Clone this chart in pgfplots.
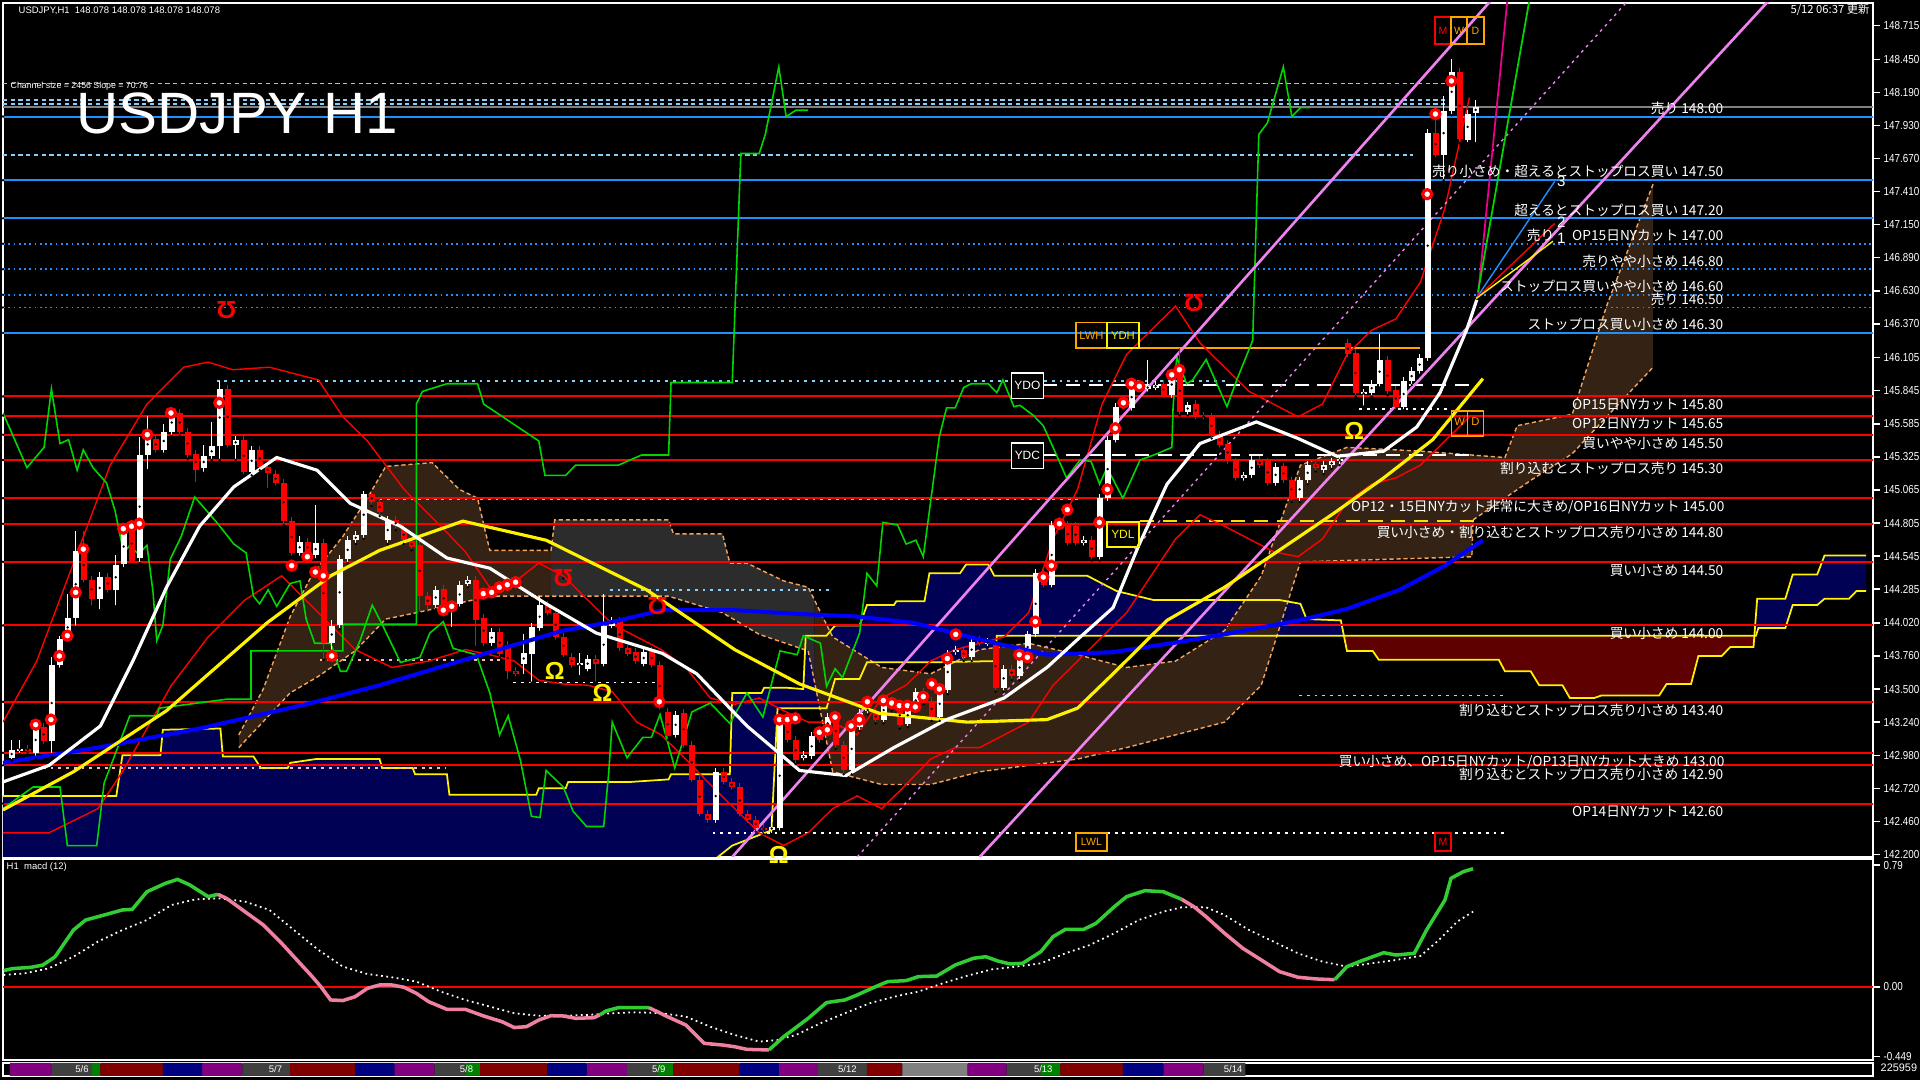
\documentclass[border=0pt]{standalone}
\usepackage{pgfplots}
\pgfplotsset{compat=1.18}
\usepackage{pgfplotstable}
\usepackage{fontspec}
\setmainfont{Liberation Sans}
\newfontfamily\jp{Noto Sans CJK JP}

\definecolor{dodger}{RGB}{30,144,255}
\definecolor{lsky}{RGB}{135,206,250}
\definecolor{peach}{RGB}{244,164,96}
\definecolor{cloudblue}{RGB}{0,0,85}
\definecolor{cloudred}{RGB}{95,0,0}
\definecolor{cloudpeach}{RGB}{52,35,20}
\definecolor{cloudgray}{RGB}{44,44,44}
\definecolor{mgreen}{RGB}{0,215,0}
\definecolor{macdg}{RGB}{50,205,50}
\definecolor{macdp}{RGB}{240,128,160}
\definecolor{chan}{RGB}{238,130,238}
\definecolor{pinkd}{RGB}{255,182,193}
\definecolor{orng}{RGB}{255,165,0}
\definecolor{mtpurple}{RGB}{128,0,128}
\definecolor{mtred}{RGB}{128,0,0}
\definecolor{mtnavy}{RGB}{0,0,128}
\definecolor{mtgray}{RGB}{64,64,64}
\definecolor{mtgreen}{RGB}{0,128,0}
\definecolor{mtlgray}{RGB}{128,128,128}

\newcommand\lvlfont{\jp\fontsize{3.9}{4.4}\selectfont}
\newcommand\smallfont{\fontsize{2.7}{3}\selectfont}

% bar index, open, high, low, close
\pgfplotstableread{
i o h l c
1 142.96 143.10 142.94 143.02
2 143.02 143.10 142.99 143.03
4 143.00 143.25 142.95 143.20
6 143.09 143.75 142.97 143.69
7 143.69 143.92 143.66 143.89
8 143.91 144.25 143.88 144.06
9 144.06 144.74 143.99 144.59
12 144.21 144.42 144.12 144.38
14 144.28 144.55 144.15 144.48
15 144.48 144.80 144.45 144.76
17 144.53 145.48 144.49 145.34
18 145.34 145.65 145.22 145.51
20 145.38 145.58 145.35 145.52
21 145.52 145.72 145.49 145.67
25 145.24 145.42 145.20 145.33
26 145.33 145.60 145.30 145.41
27 145.41 145.92 145.30 145.86
29 145.42 145.49 145.30 145.46
31 145.21 145.41 145.18 145.38
37 144.57 144.70 144.54 144.66
39 144.55 144.95 144.52 144.65
41 143.86 144.04 143.80 144.00
42 144.00 144.55 143.97 144.52
43 144.52 144.70 144.49 144.67
44 144.67 144.74 144.64 144.71
45 144.71 145.06 144.68 145.03
48 144.67 144.86 144.64 144.83
54 144.16 144.31 144.13 144.28
56 144.12 144.18 143.98 144.15
57 144.17 144.35 144.14 144.32
58 144.33 144.39 144.30 144.36
61 143.86 143.98 143.83 143.95
65 143.70 143.93 143.61 143.78
66 143.78 144.02 143.55 143.99
67 143.98 144.23 143.95 144.16
72 143.69 143.78 143.60 143.70
73 143.66 143.77 143.63 143.74
75 143.70 144.25 143.67 144.00
76 144.00 144.07 143.97 144.04
80 143.70 143.82 143.67 143.79
84 143.14 143.33 143.11 143.30
89 142.47 142.88 142.44 142.85
96 142.39 142.50 142.36 142.42
97 142.41 143.26 142.38 143.23
100 142.96 143.01 142.93 142.98
101 142.97 143.16 142.94 143.13
103 143.18 143.31 143.15 143.28
106 142.86 143.23 142.83 143.20
107 143.20 143.34 143.17 143.31
108 143.33 143.37 143.30 143.34
110 143.26 143.44 143.23 143.41
113 143.23 143.39 143.20 143.36
114 143.34 143.51 143.31 143.48
117 143.28 143.52 143.25 143.49
118 143.49 143.81 143.46 143.78
119 143.79 143.84 143.76 143.81
121 143.75 143.90 143.72 143.87
123 143.86 143.90 143.83 143.87
125 143.51 143.69 143.48 143.66
127 143.60 143.77 143.57 143.74
128 143.73 143.96 143.70 143.93
129 143.93 144.44 143.90 144.41
131 144.32 144.82 144.29 144.79
135 144.65 144.70 144.62 144.67
137 144.54 145.03 144.51 145.00
138 145.00 145.49 144.97 145.46
139 145.46 145.75 145.43 145.72
141 145.71 145.91 145.68 145.88
143 145.86 146.09 145.83 145.88
144 145.87 145.92 145.84 145.89
146 145.81 146.01 145.78 145.98
148 145.68 145.76 145.65 145.73
155 145.16 145.21 145.13 145.18
156 145.18 145.33 145.15 145.30
159 145.12 145.28 145.09 145.25
162 145.00 145.17 144.97 145.14
163 145.14 145.29 145.11 145.26
165 145.22 145.29 145.19 145.26
166 145.26 145.32 145.23 145.29
167 145.29 145.34 145.26 145.31
170 145.82 145.86 145.72 145.83
171 145.83 145.93 145.80 145.90
172 145.90 146.29 145.87 146.09
175 145.72 145.95 145.69 145.92
176 145.92 146.03 145.89 146.00
177 146.00 146.13 145.97 146.10
178 146.10 147.90 146.07 147.87
180 147.70 148.16 147.50 148.04
181 148.04 148.45 148.01 148.35
183 147.82 148.05 147.79 148.02
184 148.03 148.13 147.79 148.078
}\upbars

\pgfplotstableread{
i o h l c
3 143.03 143.06 143.00 143.02
5 143.20 143.23 143.06 143.09
10 144.59 144.74 144.33 144.36
11 144.36 144.39 144.15 144.21
13 144.38 144.41 144.25 144.28
16 144.78 144.82 144.48 144.51
19 145.47 145.50 145.35 145.38
22 145.67 145.70 145.49 145.52
23 145.52 145.55 145.31 145.34
24 145.35 145.38 145.12 145.22
28 145.86 145.89 145.39 145.42
30 145.46 145.49 145.18 145.21
32 145.38 145.41 145.22 145.25
33 145.25 145.28 145.07 145.20
34 145.19 145.22 145.09 145.12
35 145.12 145.15 144.79 144.82
36 144.82 144.85 144.54 144.57
38 144.66 144.69 144.54 144.57
40 144.65 144.68 143.73 143.86
46 145.03 145.06 144.94 144.97
47 144.97 145.00 144.86 144.89
49 144.83 144.86 144.75 144.78
50 144.76 144.79 144.64 144.67
51 144.66 144.69 144.59 144.62
52 144.63 144.66 144.10 144.23
53 144.23 144.26 144.10 144.16
55 144.29 144.32 144.11 144.14
59 144.36 144.39 143.83 144.04
60 144.06 144.09 143.83 143.86
62 143.95 143.98 143.75 143.78
63 143.85 143.88 143.57 143.64
64 143.64 143.67 143.59 143.62
68 144.16 144.19 144.07 144.10
69 144.10 144.13 143.88 143.91
70 143.91 143.94 143.74 143.77
71 143.75 143.78 143.66 143.69
74 143.74 143.77 143.55 143.70
77 144.04 144.07 143.79 143.82
78 143.82 143.85 143.75 143.78
79 143.79 143.82 143.69 143.72
81 143.80 143.83 143.66 143.69
82 143.69 143.72 143.33 143.36
83 143.32 143.35 143.10 143.13
85 143.31 143.34 143.03 143.06
86 143.06 143.09 142.76 142.79
87 142.79 142.82 142.49 142.52
88 142.52 142.55 142.44 142.47
90 142.85 142.88 142.74 142.77
91 142.77 142.80 142.70 142.73
92 142.73 142.76 142.49 142.52
93 142.52 142.55 142.44 142.47
94 142.47 142.50 142.38 142.41
95 142.41 142.44 142.36 142.39
98 143.23 143.26 143.07 143.10
99 143.10 143.13 142.91 142.94
102 143.18 143.21 143.07 143.10
104 143.28 143.31 143.03 143.06
105 143.06 143.09 142.83 142.86
109 143.31 143.34 143.23 143.26
111 143.40 143.43 143.33 143.36
112 143.37 143.40 143.19 143.22
115 143.48 143.51 143.38 143.41
116 143.41 143.44 143.25 143.28
120 143.81 143.84 143.72 143.75
122 143.89 143.92 143.83 143.86
124 143.85 143.88 143.48 143.51
126 143.66 143.69 143.57 143.60
130 144.41 144.44 144.29 144.32
132 144.82 144.85 144.76 144.79
133 144.79 144.82 144.62 144.65
134 144.78 144.81 144.62 144.65
136 144.67 144.70 144.51 144.54
140 145.75 145.78 145.69 145.72
142 145.88 145.91 145.83 145.86
145 145.90 145.93 145.78 145.81
147 146.01 146.18 145.65 145.68
149 145.74 145.77 145.61 145.64
150 145.65 145.68 145.61 145.64
151 145.64 145.67 145.47 145.50
152 145.50 145.53 145.39 145.42
153 145.43 145.46 145.26 145.29
154 145.29 145.32 145.13 145.16
157 145.30 145.33 145.23 145.26
158 145.29 145.32 145.09 145.12
160 145.25 145.28 145.11 145.14
161 145.14 145.17 144.97 145.00
164 145.27 145.30 145.21 145.24
168 146.22 146.25 146.10 146.13
169 146.14 146.17 145.80 145.83
173 146.09 146.12 145.81 145.84
174 145.85 145.88 145.69 145.72
179 147.87 148.00 147.67 147.70
182 148.35 148.38 147.79 147.82
}\dnbars

\pgfplotstableread{
y
148.00
147.50
147.20
146.30
}\bluesolid
\pgfplotstableread{
y
147.00
146.80
146.60
146.50
}\bluedot
\pgfplotstableread{
y
145.80
145.65
145.50
145.30
145.00
144.80
144.50
144.00
143.40
143.00
142.90
142.60
}\redlev

\begin{document}
\begin{tikzpicture}[lvl/.style={text=white, font=\lvlfont, inner sep=0.4pt}]
\fill[black] (0,0) rectangle (19.2,10.8);

% ---------------- price panel ----------------
\begin{axis}[
  at={(0.03cm,2.23cm)}, anchor=south west,
  width=18.70cm, height=8.54cm, scale only axis,
  xmin=2.45, xmax=1529.6, ymin=142.18, ymax=148.893,
  axis line style={white, line width=0.6pt},
  xtick=\empty,
  ytick pos=right, yticklabel pos=right,
  ytick={148.715,148.450,148.190,147.930,147.670,147.410,147.150,146.890,146.630,146.370,146.105,145.845,145.585,145.325,145.065,144.805,144.545,144.285,144.020,143.760,143.500,143.240,142.980,142.720,142.460,142.200},
  yticklabels={148.715,148.450,148.190,147.930,147.670,147.410,147.150,146.890,146.630,146.370,146.105,145.845,145.585,145.325,145.065,144.805,144.545,144.285,144.020,143.760,143.500,143.240,142.980,142.720,142.460,142.200},
  tick align=outside, major tick length=2pt,
  tick style={white, line width=0.4pt},
  yticklabel style={text=white, font=\fontsize{3.3}{3.6}\selectfont, xscale=0.85, inner sep=1pt},
  nomark/.style={only marks, mark=*, mark size=0.1pt, mark options={draw=none, fill=none}},
]
% ichimoku cloud (area between the two spans)
\addplot[fill=cloudblue, draw=none] coordinates {(2.45,142.66)(95,142.66)(100,142.98)(131,142.98)(133,143.18)(180,143.19)(182,142.97)(207,142.97)(213,142.88)(235,142.88)(237,142.92)(258,142.95)(310,142.95)(312,142.88)(337,142.88)(339,142.83)(365,142.83)(367,142.67)(438,142.67)(440,142.72)(462,142.72)(464,142.77)(515,142.77)(546,142.79)(548,142.83)(596,142.83)(598,143.47)(622,143.47)(624,143.51)(643,143.51)(656,143.50)(658,143.92)(675,143.92)(682,144.00)(702,144.00)(708,144.16)(730,144.16)(732,144.19)(755,144.19)(759,144.41)(784,144.41)(789,144.48)(807,144.48)(812,144.39)(888,144.39)(912,144.27)(942,144.20)(1045,144.20)(1062,144.17)(1067,144.05)(1095,144.04)(1097.5,143.92)(814,143.92)(813,143.72)(760,143.71)(708,143.71)(702,143.58)(682,143.58)(675,143.35)(635,143.35)(630,142.39)(598,142.27)(560,141.98)(2.45,141.98)} -- cycle;
\addplot[fill=cloudred, draw=none] coordinates {(1097.5,143.92)(1434,143.92)(1432,143.83)(1413,143.83)(1406,143.76)(1387,143.76)(1381,143.54)(1361,143.54)(1355,143.45)(1308,143.45)(1302,143.43)(1282,143.43)(1276,143.53)(1257,143.53)(1250,143.64)(1229,143.64)(1224,143.73)(1126,143.73)(1121,143.80)(1100,143.80)} -- cycle;
\addplot[fill=cloudblue, draw=none] coordinates {(1434,143.92)(1435,144.21)(1458,144.21)(1464,144.40)(1484,144.40)(1490,144.55)(1524,144.55)(1524,144.27)(1516,144.27)(1510,144.21)(1490,144.21)(1484,144.16)(1464,144.16)(1458,143.98)(1436,143.98)} -- cycle;

% second (dotted) cloud
\addplot[fill=cloudpeach, draw=none] coordinates {(195,143.14)(215,143.50)(237,144.07)(255,144.40)(280,144.70)(300,145.00)(315,145.25)(353,145.28)(375,145.07)(390,145.00)(400,144.59)(450,144.59)(450,144.23)(400,144.23)(340,144.10)(315,144.05)(290,143.80)(260,143.60)(237,143.47)(195,143.04)} -- cycle;
\addplot[fill=cloudgray, draw=none] coordinates {(450,144.59)(453,144.83)(546,144.83)(550,144.72)(590,144.72)(596,144.49)(610,144.49)(640,144.35)(660,144.30)(665,144.20)(665,143.56)(660,143.80)(620,143.93)(590,144.10)(546,144.23)(450,144.23)} -- cycle;
\addplot[fill=cloudpeach, draw=none] coordinates {(665,144.20)(680,143.91)(720,143.67)(760,143.62)(800,143.81)(840,143.86)(880,143.77)(920,143.67)(960,143.72)(1000,143.96)(1030,144.39)(1062,145.26)(1100,145.40)(1160,145.37)(1229,145.32)(1239,145.57)(1284,145.66)(1312,146.51)(1350,147.47)(1350,146.03)(1312,145.64)(1284,145.35)(1250,145.14)(1203,144.83)(1202,144.54)(1062,144.50)(1030,143.53)(1000,143.24)(960,143.14)(920,143.04)(880,142.95)(840,142.90)(800,142.85)(760,142.75)(720,142.75)(680,142.85)(665,143.56)} -- cycle;
\addplot[peach, line width=0.4pt, dash pattern=on 1.2pt off 0.8pt] coordinates {(195,143.14)(215,143.50)(237,144.07)(255,144.40)(280,144.70)(300,145.00)(315,145.25)(353,145.28)(375,145.07)(390,145.00)(400,144.59)(450,144.59)(453,144.83)(546,144.83)(550,144.72)(590,144.72)(596,144.49)(610,144.49)(640,144.35)(660,144.30)(680,143.91)(720,143.67)(760,143.62)(800,143.81)(840,143.86)(880,143.77)(920,143.67)(960,143.72)(1000,143.96)(1030,144.39)(1062,145.26)(1100,145.40)(1160,145.37)(1229,145.32)(1239,145.57)(1284,145.66)(1312,146.51)(1350,147.47)};
\addplot[peach, line width=0.4pt, dash pattern=on 1.2pt off 0.8pt] coordinates {(195,143.04)(237,143.47)(260,143.60)(290,143.80)(315,144.05)(340,144.10)(400,144.23)(546,144.23)(590,144.10)(620,143.93)(660,143.80)(680,142.85)(720,142.75)(760,142.75)(800,142.85)(840,142.90)(880,142.95)(920,143.04)(960,143.14)(1000,143.24)(1030,143.53)(1062,144.50)(1202,144.54)(1203,144.83)(1250,145.14)(1284,145.35)(1312,145.64)(1350,146.03)};
% span lines
\addplot[yellow, line width=0.5pt] coordinates {(2.45,142.66)(95,142.66)(100,142.98)(131,142.98)(133,143.18)(180,143.19)(182,142.97)(207,142.97)(213,142.88)(235,142.88)(237,142.92)(258,142.95)(310,142.95)(312,142.88)(337,142.88)(339,142.83)(365,142.83)(367,142.67)(438,142.67)(440,142.72)(462,142.72)(464,142.77)(515,142.77)(546,142.79)(548,142.83)(596,142.83)(598,143.47)(622,143.47)(624,143.51)(643,143.51)(656,143.50)(658,143.92)(675,143.92)(682,144.00)(702,144.00)(708,144.16)(730,144.16)(732,144.19)(755,144.19)(759,144.41)(784,144.41)(789,144.48)(807,144.48)(812,144.39)(888,144.39)(912,144.27)(942,144.20)(1045,144.20)(1062,144.17)(1067,144.05)(1095,144.04)(1100,143.80)(1121,143.80)(1126,143.73)(1224,143.73)(1229,143.64)(1250,143.64)(1257,143.53)(1276,143.53)(1282,143.43)(1302,143.43)(1308,143.45)(1355,143.45)(1361,143.54)(1381,143.54)(1387,143.76)(1406,143.76)(1413,143.83)(1432,143.83)(1435,144.21)(1458,144.21)(1464,144.40)(1484,144.40)(1490,144.55)(1524,144.55)};
\addplot[yellow, line width=0.5pt] coordinates {(2.45,141.98)(560,141.98)(598,142.27)(630,142.39)(635,143.35)(675,143.35)(682,143.58)(702,143.58)(708,143.71)(760,143.71)(813,143.72)(814,143.92)(1434,143.92)(1436,143.98)(1458,143.98)(1464,144.16)(1484,144.16)(1490,144.21)(1510,144.21)(1516,144.27)(1524,144.27)};

% horizontal levels
\addplot[nomark, error bars/.cd, x dir=plus, x explicit, error mark=none, error bar style={dodger, line width=0.55pt}] table[x expr=2.45, y=y, x error expr=1528] {\bluesolid};
\addplot[nomark, error bars/.cd, x dir=plus, x explicit, error mark=none, error bar style={dodger, line width=0.5pt, densely dotted}] table[x expr=2.45, y=y, x error expr=1528] {\bluedot};
\addplot[nomark, error bars/.cd, x dir=plus, x explicit, error mark=none, error bar style={red, line width=0.55pt}] table[x expr=2.45, y=y, x error expr=1528] {\redlev};
\addplot[mtlgray, line width=0.5pt] coordinates {(2.45,148.078)(1529.6,148.078)};

% dotted reference lines
\addplot[lsky, line width=0.45pt, dash pattern=on 1.2pt off 1pt] coordinates {(2.45,148.26)(1181,148.26)};
\addplot[lsky, line width=0.45pt, dash pattern=on 1.2pt off 1pt] coordinates {(2.45,148.13)(1181,148.13)};
\addplot[lsky, line width=0.45pt, dash pattern=on 1.2pt off 1pt] coordinates {(2.45,148.10)(1181,148.10)};
\addplot[lsky, line width=0.45pt, dash pattern=on 1.2pt off 1pt] coordinates {(2.45,147.70)(1154,147.70)};
\addplot[lsky, line width=0.45pt, dash pattern=on 0.8pt off 1.4pt] coordinates {(177,145.92)(1000,145.92)};
\addplot[lsky, line width=0.45pt, dash pattern=on 0.8pt off 1.4pt] coordinates {(310,144.99)(884,144.99)};
\addplot[lsky, line width=0.45pt, dash pattern=on 0.8pt off 1.4pt] coordinates {(498,144.28)(678,144.28)};
\addplot[pinkd, line width=0.45pt, dash pattern=on 0.8pt off 1.4pt] coordinates {(261,143.73)(414,143.73)};
\addplot[pinkd, line width=0.45pt, dash pattern=on 0.8pt off 1.4pt] coordinates {(35,142.88)(364,142.88)};
\addplot[pinkd, line width=0.45pt, dash pattern=on 0.8pt off 1.4pt] coordinates {(1061,143.45)(1229,143.45)};
\addplot[white, line width=0.45pt, dash pattern=on 0.8pt off 1.4pt] coordinates {(582,142.37)(1230,142.37)};
\addplot[white, line width=0.45pt, dash pattern=on 0.8pt off 1.4pt] coordinates {(419,143.55)(539,143.55)};
\addplot[white, line width=0.45pt, dash pattern=on 0.8pt off 1.4pt] coordinates {(1110,145.70)(1183,145.70)};
\addplot[orng, line width=0.6pt] coordinates {(930,146.18)(1160,146.18)};
\addplot[white, line width=0.5pt, dash pattern=on 4pt off 2.5pt] coordinates {(852,145.89)(1206,145.89)};
\addplot[white, line width=0.5pt, dash pattern=on 4pt off 2.5pt] coordinates {(852,145.34)(1206,145.34)};
\addplot[yellow!80!orange, line width=0.5pt, dash pattern=on 4pt off 2.5pt] coordinates {(931,144.82)(1206,144.82)};

% bands
\addplot[red, line width=0.4pt] coordinates {(2.45,143.24)(30,143.72)(60,144.49)(90,145.26)(120,145.74)(150,146.03)(170,146.07)(190,146.01)(220,146.03)(260,145.93)(280,145.64)(300,145.45)(330,145.07)(360,144.78)(380,144.58)(400,144.30)(420,144.34)(440,144.49)(460,144.39)(480,144.20)(500,144.01)(520,143.91)(540,143.81)(560,143.67)(580,143.43)(600,143.38)(620,143.43)(640,143.33)(660,143.24)(680,143.24)(700,143.14)(720,143.43)(740,143.53)(760,143.72)(780,143.81)(800,143.86)(820,143.91)(840,144.10)(860,144.68)(880,145.07)(900,145.74)(920,146.13)(940,146.32)(960,146.51)(980,146.22)(1000,146.03)(1020,145.84)(1040,145.74)(1060,145.64)(1080,145.74)(1100,146.13)(1120,146.32)(1140,146.41)(1160,146.70)(1180,147.28)(1200,148.15)};
\addplot[red, line width=0.4pt] coordinates {(2.45,142.37)(40,142.37)(80,142.56)(100,142.85)(140,143.53)(170,143.91)(200,144.20)(230,144.39)(260,144.10)(290,143.81)(320,143.67)(350,143.72)(380,143.81)(400,143.77)(420,143.72)(440,143.57)(460,143.54)(480,143.53)(500,143.48)(520,143.24)(540,143.14)(560,142.95)(580,142.75)(600,142.56)(620,142.37)(640,142.27)(660,142.37)(680,142.56)(700,142.66)(720,142.56)(740,142.75)(760,142.95)(780,143.04)(800,143.04)(820,143.14)(840,143.24)(860,143.53)(880,143.72)(900,143.91)(920,144.10)(940,144.39)(960,144.68)(980,144.87)(1000,144.78)(1020,144.68)(1040,144.58)(1060,144.54)(1080,144.68)(1100,144.97)(1120,145.11)(1140,145.16)(1160,145.26)(1180,145.45)(1200,145.64)};

% green lines
\addplot[mgreen, line width=0.45pt] coordinates {(2.45,142.56)(27,142.73)(49,142.73)(55,142.27)(79,142.27)(85,142.76)(106,143.29)(128,143.29)(130,143.35)(185,143.42)(205,143.42)(205,143.80)(280,143.80)(280,144.01)(340,144.01)(340,145.74)(345,145.84)(365,145.90)(390,145.90)(395,145.74)(440,145.45)(445,145.18)(462,145.18)(470,145.26)(505,145.26)(524,145.34)(546,145.34)(548,145.91)(598,145.91)(605,147.71)(620,147.71)(625,147.86)(636,148.39)(642,148.00)(650,148.05)(660,148.05)};
\addplot[mgreen, line width=0.45pt] coordinates {(2.45,145.67)(22,145.24)(36,145.40)(42,145.86)(49,145.43)(56,145.46)(63,145.22)(68,145.38)(76,145.24)(87,145.12)(94,144.90)(101,144.57)(106,144.63)(113,144.56)(120,144.63)(125,144.26)(128,143.88)(133,144.00)(139,144.52)(148,144.70)(159,145.01)(177,144.81)(191,144.64)(201,144.57)(207,144.23)(212,144.17)(219,144.28)(226,144.15)(237,144.33)(245,144.35)(250,144.05)(257,143.86)(270,143.86)(278,143.64)(283,143.64)(294,143.88)(304,144.16)(313,143.99)(327,143.71)(343,143.75)(351,143.94)(362,144.03)(370,143.82)(389,143.77)(400,143.47)(408,143.14)(415,143.29)(425,142.94)(434,142.50)(441,142.49)(446,142.86)(460,142.73)(468,142.54)(479,142.42)(493,142.42)(497,142.83)(500,143.24)(512,142.96)(525,143.12)(532,143.12)(539,143.30)(551,142.88)(565,143.32)(580,143.39)(596,143.23)(610,143.47)(623,143.28)(637,143.80)(651,143.77)(656,143.92)(670,143.86)(675,143.52)(682,143.66)(688,143.59)(702,143.94)(708,144.41)(716,144.31)(721,144.81)(733,144.79)(740,144.64)(748,144.67)(754,144.54)(767,145.48)(773,145.71)(780,145.71)(787,145.87)(793,145.90)(807,145.90)(814,145.83)(819,145.93)(828,145.72)(833,145.73)(844,145.65)(852,145.57)(860,145.40)(871,145.16)(882,145.30)(891,145.29)(898,145.11)(904,145.24)(917,145.00)(931,145.30)(945,145.35)(957,145.40)(958,145.72)(961,146.11)(969,145.90)(974,145.93)(985,146.09)(1002,145.72)(1010,145.93)(1023,146.24)(1028,147.86)(1035,147.95)(1048,148.39)(1055,148.00)(1062,148.07)(1070,148.07)};

% channel
\addplot[chan, line width=0.75pt] coordinates {(598,142.18)(1218,148.917)};
\addplot[chan, line width=0.75pt] coordinates {(800,142.18)(1445,148.917)};
\addplot[chan, line width=0.4pt, dash pattern=on 0.8pt off 1.2pt] coordinates {(700,142.18)(1330,148.917)};

% candles
\addplot[nomark, error bars/.cd, y dir=plus, y explicit, error mark=none, error bar style={white, line width=0.4pt}]
  table[x expr=9.555+6.533*(\thisrow{i}-1), y=l, y error expr=\thisrow{h}-\thisrow{l}] {\upbars};
\addplot[nomark, error bars/.cd, y dir=plus, y explicit, error mark=none, error bar style={red, line width=0.4pt}]
  table[x expr=9.555+6.533*(\thisrow{i}-1), y=l, y error expr=\thisrow{h}-\thisrow{l}] {\dnbars};
\addplot[nomark, error bars/.cd, y dir=both, y explicit, error mark=none, error bar style={white, line width=1.8pt}]
  table[x expr=9.555+6.533*(\thisrow{i}-1), y expr=(\thisrow{o}+\thisrow{c})/2, y error expr={max(abs(\thisrow{o}-\thisrow{c})/2,0.008)}] {\upbars};
\addplot[nomark, error bars/.cd, y dir=both, y explicit, error mark=none, error bar style={red, line width=1.8pt}]
  table[x expr=9.555+6.533*(\thisrow{i}-1), y expr=(\thisrow{o}+\thisrow{c})/2, y error expr={max(abs(\thisrow{o}-\thisrow{c})/2,0.008)}] {\dnbars};

% moving averages
\addplot[blue, line width=1.15pt] coordinates {(2.45,142.92)(80,143.04)(163,143.19)(250,143.38)(310,143.53)(400,143.79)(460,143.96)(501,144.03)(541,144.12)(600,144.12)(653,144.09)(700,144.07)(746,144.02)(800,143.89)(855,143.77)(909,143.79)(963,143.87)(1000,143.93)(1061,144.04)(1100,144.13)(1143,144.28)(1180,144.47)(1211,144.67)};
\addplot[yellow, line width=0.9pt] coordinates {(2.45,142.55)(60,142.85)(136,143.33)(218,144.02)(270,144.39)(310,144.59)(378,144.82)(446,144.67)(528,144.28)(600,143.81)(653,143.54)(718,143.31)(790,143.24)(855,143.26)(880,143.35)(909,143.62)(953,144.04)(1000,144.30)(1089,144.88)(1130,145.16)(1170,145.46)(1211,145.94)};
\addplot[white, line width=0.9pt] coordinates {(2.45,142.77)(40,142.90)(82,143.21)(109,143.73)(136,144.30)(163,144.78)(191,145.09)(226,145.32)(259,145.22)(286,144.96)(327,144.78)(365,144.53)(400,144.45)(446,144.17)(487,143.94)(541,143.78)(569,143.62)(610,143.21)(653,142.86)(691,142.82)(730,143.04)(773,143.26)(820,143.43)(855,143.67)(880,143.89)(909,144.14)(930,144.63)(953,145.11)(980,145.43)(1026,145.60)(1060,145.47)(1092,145.33)(1130,145.37)(1157,145.56)(1176,145.83)(1198,146.33)(1206,146.56)};

% late fan and steep lines
\addplot[dodger, line width=0.4pt] coordinates {(1205.5,146.57)(1269.6,147.49)};
\addplot[red, line width=0.4pt] coordinates {(1205.5,146.57)(1269.6,147.16)};
\addplot[yellow, line width=0.4pt] coordinates {(1205.5,146.57)(1268.2,147.02)};
\addplot[magenta, line width=0.5pt] coordinates {(1207,146.59)(1231,148.917)};
\addplot[mgreen, line width=0.5pt] coordinates {(1207,146.62)(1249,148.917)};

% signal circles
\addplot[only marks, mark=*, mark size=1.3pt, mark options={draw=red, fill=white, line width=0.9pt}] coordinates {(29.1,143.22)(41.6,143.26)(48.5,143.76)(55,143.92)(61.8,144.26)(68,144.60)(100.7,144.76)(107.5,144.78)(113.8,144.80)(120.3,145.50)(139.6,145.67)(179.1,145.75)(238.2,144.47)(251,144.54)(257.5,144.42)(264,144.39)(270.9,143.76)(362,144.12)(368.9,144.15)(394.7,144.25)(401.5,144.26)(407.8,144.30)(414.3,144.32)(421.1,144.34)(538.4,143.40)(636.5,143.26)(643,143.26)(649.5,143.27)(669.1,143.16)(675.6,143.18)(681.9,143.28)(695,143.21)(701.8,143.26)(708.3,143.40)(721.4,143.41)(728.2,143.39)(734.4,143.37)(741,143.37)(747.5,143.36)(754,143.44)(760.9,143.54)(767.1,143.50)(773.6,143.74)(780.5,143.93)(832.4,143.77)(839,143.75)(845.5,144.03)(852,144.38)(858.6,144.47)(865.1,144.80)(871.6,144.91)(897.8,144.81)(904.3,145.07)(910.8,145.55)(917.4,145.75)(923.9,145.90)(930.4,145.88)(956.9,145.97)(963.1,146.01)(1165.5,147.39)(1172.2,148.02)(1185.3,148.28)};

% horseshoe symbols
\addplot[nomark, nodes near coords={\bfseries\fontsize{7}{7}\selectfont Ω}, every node near coord/.append style={text=red, rotate=180, anchor=center, inner sep=0pt}] coordinates {(185,146.48)(975,146.53)(460,144.37)(537,144.15)};
\addplot[nomark, nodes near coords={\bfseries\fontsize{7}{7}\selectfont Ω}, every node near coord/.append style={text=yellow, anchor=center, inner sep=0pt}] coordinates {(453,143.64)(492,143.47)(1106,145.53)(636,142.20)};

% level labels
\node[lvl, anchor=south east] at (axis cs:1409,148.00) {売り 148.00};
\node[lvl, anchor=south east] at (axis cs:1409,147.50) {売り小さめ・超えるとストップロス買い 147.50};
\node[lvl, anchor=south east] at (axis cs:1409,147.20) {超えるとストップロス買い 147.20};
\node[lvl, anchor=south east] at (axis cs:1409,147.00) {OP15日NYカット 147.00};
\node[lvl, anchor=south east] at (axis cs:1271,147.00) {売り};
\node[lvl, anchor=south east] at (axis cs:1409,146.80) {売りやや小さめ 146.80};
\node[lvl, anchor=south east] at (axis cs:1409,146.60) {ストップロス買いやや小さめ 146.60};
\node[lvl, anchor=south east] at (axis cs:1409,146.50) {売り 146.50};
\node[lvl, anchor=south east] at (axis cs:1409,146.30) {ストップロス買い小さめ 146.30};
\node[lvl, anchor=north east] at (axis cs:1409,145.80) {OP15日NYカット 145.80};
\node[lvl, anchor=north east] at (axis cs:1409,145.65) {OP12日NYカット 145.65};
\node[lvl, anchor=north east] at (axis cs:1409,145.50) {買いやや小さめ 145.50};
\node[lvl, anchor=north east] at (axis cs:1409,145.30) {割り込むとストップロス売り 145.30};
\node[lvl, anchor=north east] at (axis cs:1410,145.00) {OP12・15日NYカット非常に大きめ/OP16日NYカット 145.00};
\node[lvl, anchor=north east] at (axis cs:1409,144.80) {買い小さめ・割り込むとストップロス売り小さめ 144.80};
\node[lvl, anchor=north east] at (axis cs:1409,144.50) {買い小さめ 144.50};
\node[lvl, anchor=north east] at (axis cs:1409,144.00) {買い小さめ 144.00};
\node[lvl, anchor=north east] at (axis cs:1409,143.40) {割り込むとストップロス売り小さめ 143.40};
\node[lvl, anchor=north east] at (axis cs:1410,143.00) {買い小さめ、OP15日NYカット/OP13日NYカット大きめ 143.00};
\node[lvl, anchor=north east] at (axis cs:1409,142.90) {割り込むとストップロス売り小さめ 142.90};
\node[lvl, anchor=north east] at (axis cs:1409,142.60) {OP14日NYカット 142.60};
\node[text=white, font=\fontsize{4.3}{4.5}\selectfont, inner sep=0] at (axis cs:1275,147.49) {3};
\node[text=white, font=\fontsize{4.3}{4.5}\selectfont, inner sep=0] at (axis cs:1275,147.17) {2};
\node[text=white, font=\fontsize{4.3}{4.5}\selectfont, inner sep=0] at (axis cs:1275,147.04) {1};

% marker boxes
\draw[orng, line width=0.45pt] (axis cs:878.7,146.18) rectangle (axis cs:904,146.38);
\node[text=orng, font=\fontsize{3.2}{3.4}\selectfont] at (axis cs:891.3,146.28) {LWH};
\draw[yellow, line width=0.45pt] (axis cs:904,146.18) rectangle (axis cs:930,146.38);
\node[text=yellow, font=\fontsize{3.2}{3.4}\selectfont] at (axis cs:917,146.28) {YDH};
\draw[white, line width=0.45pt, fill=black] (axis cs:826,145.785) rectangle (axis cs:852,145.986);
\node[text=white, font=\fontsize{3.4}{3.6}\selectfont] at (axis cs:839,145.885) {YDO};
\draw[white, line width=0.45pt, fill=black] (axis cs:826,145.234) rectangle (axis cs:852,145.436);
\node[text=white, font=\fontsize{3.4}{3.6}\selectfont] at (axis cs:839,145.335) {YDC};
\draw[yellow, line width=0.45pt] (axis cs:904,144.618) rectangle (axis cs:930,144.815);
\node[text=yellow, font=\fontsize{3.4}{3.6}\selectfont] at (axis cs:917,144.716) {YDL};
\draw[orng, line width=0.45pt] (axis cs:1185.5,145.489) rectangle (axis cs:1198.5,145.685);
\node[text=orng, font=\fontsize{3.2}{3.4}\selectfont] at (axis cs:1192,145.60) {W};
\draw[orng, line width=0.45pt] (axis cs:1198.5,145.489) rectangle (axis cs:1211.4,145.685);
\node[text=orng, font=\fontsize{3.2}{3.4}\selectfont] at (axis cs:1205,145.60) {D};
\draw[red, line width=0.45pt] (axis cs:1172,148.57) rectangle (axis cs:1185,148.782);
\node[text=red, font=\fontsize{3}{3.2}\selectfont] at (axis cs:1178.5,148.676) {M};
\draw[orng, line width=0.45pt] (axis cs:1185,148.57) rectangle (axis cs:1198,148.782);
\node[text=orng, font=\fontsize{3}{3.2}\selectfont] at (axis cs:1191.5,148.676) {W};
\draw[orng, line width=0.45pt] (axis cs:1198,148.57) rectangle (axis cs:1212,148.782);
\node[text=orng, font=\fontsize{3}{3.2}\selectfont] at (axis cs:1205,148.676) {D};
\draw[orng, line width=0.45pt] (axis cs:878.7,142.225) rectangle (axis cs:904,142.369);
\node[text=orng, font=\fontsize{3}{3.2}\selectfont] at (axis cs:891.3,142.297) {LWL};
\draw[red, line width=0.45pt] (axis cs:1172,142.225) rectangle (axis cs:1185,142.369);
\node[text=red, font=\fontsize{3}{3.2}\selectfont] at (axis cs:1178.5,142.297) {M};

% current price tag
\node[anchor=west, fill=white, text=black, font=\fontsize{3.3}{3.6}\selectfont, inner sep=0.6pt, xshift=1.2pt] at (axis cs:1529.6,148.078) {148.078};
\end{axis}

% ---------------- MACD panel ----------------
\begin{axis}[
  at={(0.03cm,0.20cm)}, anchor=south west,
  width=18.70cm, height=2.01cm, scale only axis,
  xmin=2.45, xmax=1529.6, ymin=-0.473, ymax=0.829,
  axis line style={white, line width=0.6pt},
  xtick=\empty,
  ytick pos=right, yticklabel pos=right,
  ytick={0.79,0,-0.449}, yticklabels={0.79,0.00,-0.449},
  tick align=outside, major tick length=2pt,
  tick style={white, line width=0.4pt},
  yticklabel style={text=white, font=\fontsize{3.3}{3.6}\selectfont, xscale=0.85, inner sep=1pt},
]
\addplot[red, line width=0.6pt] coordinates {(2.45,0)(1529.6,0)};
\addplot[white, line width=0.5pt, densely dotted] coordinates {(3,0.078)(20,0.088)(40,0.121)(60,0.196)(80,0.294)(100,0.369)(120,0.434)(140,0.531)(160,0.568)(180,0.574)(200,0.553)(220,0.499)(240,0.369)(260,0.240)(280,0.132)(300,0.084)(320,0.063)(340,0.035)(360,-0.030)(380,-0.084)(400,-0.127)(420,-0.170)(440,-0.186)(460,-0.186)(480,-0.181)(500,-0.170)(520,-0.164)(540,-0.170)(560,-0.192)(580,-0.257)(600,-0.311)(620,-0.354)(635,-0.343)(650,-0.311)(670,-0.235)(690,-0.170)(710,-0.106)(730,-0.063)(750,-0.030)(770,0.024)(790,0.073)(810,0.114)(830,0.132)(850,0.153)(870,0.218)(890,0.272)(910,0.348)(930,0.434)(950,0.488)(965,0.516)(985,0.516)(1000,0.466)(1020,0.369)(1040,0.294)(1060,0.218)(1080,0.164)(1100,0.132)(1120,0.153)(1140,0.175)(1160,0.201)(1175,0.304)(1190,0.423)(1203,0.488)};
\addplot[macdg, line width=1pt] coordinates {(3,0.106)(10,0.119)(25,0.127)(35,0.142)(45,0.196)(60,0.369)(70,0.434)(85,0.466)(100,0.499)(108,0.503)(120,0.617)(135,0.671)(145,0.697)(155,0.661)(170,0.585)(178,0.600)};
\addplot[macdp, line width=1pt] coordinates {(178,0.600)(185,0.574)(200,0.488)(215,0.402)(230,0.283)(245,0.153)(255,0.067)(262,0.002)(270,-0.084)(280,-0.088)(290,-0.063)(300,-0.009)(310,0.013)(320,0.013)(330,-0.002)(340,-0.041)(350,-0.095)(365,-0.145)(380,-0.145)(395,-0.188)(410,-0.225)(420,-0.263)(430,-0.257)(440,-0.214)(450,-0.186)(460,-0.188)(470,-0.203)(485,-0.199)(490,-0.180)};
\addplot[macdg, line width=1pt] coordinates {(490,-0.180)(495,-0.155)(505,-0.134)(530,-0.134)};
\addplot[macdp, line width=1pt] coordinates {(530,-0.134)(545,-0.192)(560,-0.246)(575,-0.365)(590,-0.376)(600,-0.387)(610,-0.404)(628,-0.408)};
\addplot[macdg, line width=1pt] coordinates {(628,-0.408)(640,-0.322)(660,-0.203)(675,-0.101)(690,-0.084)(700,-0.052)(715,0.002)(725,0.035)(740,0.041)(750,0.067)(765,0.071)(780,0.142)(795,0.186)(805,0.196)(815,0.168)(825,0.149)(835,0.153)(850,0.229)(860,0.326)(870,0.373)(885,0.373)(895,0.412)(910,0.520)(920,0.585)(935,0.624)(950,0.617)(965,0.568)};
\addplot[macdp, line width=1pt] coordinates {(965,0.568)(975,0.520)(985,0.455)(1000,0.348)(1015,0.250)(1030,0.175)(1045,0.099)(1060,0.063)(1075,0.052)(1090,0.047)};
\addplot[macdg, line width=1pt] coordinates {(1090,0.047)(1100,0.132)(1110,0.164)(1130,0.222)(1140,0.207)(1155,0.218)(1165,0.369)(1180,0.563)(1185,0.704)(1195,0.747)(1203,0.766)};
\end{axis}

% ---------------- session strip ----------------
\begin{axis}[
  at={(0.03cm,0.04cm)}, anchor=south west,
  width=18.70cm, height=0.13cm, scale only axis,
  xmin=2.45, xmax=1529.6, ymin=0, ymax=1,
  ticks=none, axis line style={white, line width=0.5pt},
]
\addplot[const plot, fill=mtpurple, draw=none] coordinates {(8,1)(42,0)(165,1)(198,0)(322,1)(355,0)(479,1)(512,0)(636,1)(668,0)(790,1)(822,0)(950,1)(983,0)} \closedcycle;
\addplot[const plot, fill=mtgray, draw=none] coordinates {(42,1)(75,0)(198,1)(237,0)(355,1)(380,0)(512,1)(537,0)(668,1)(708,0)(822,1)(850,0)(983,1)(1017,0)} \closedcycle;
\addplot[const plot, fill=mtgreen, draw=none] coordinates {(75,1)(82,0)(380,1)(392,0)(537,1)(550,0)(850,1)(866,0)} \closedcycle;
\addplot[const plot, fill=mtred, draw=none] coordinates {(82,1)(133,0)(237,1)(290,0)(392,1)(447,0)(550,1)(604,0)(708,1)(737,0)(866,1)(917,0)} \closedcycle;
\addplot[const plot, fill=mtnavy, draw=none] coordinates {(133,1)(165,0)(290,1)(322,0)(447,1)(479,0)(604,1)(636,0)(917,1)(950,0)} \closedcycle;
\addplot[const plot, fill=mtlgray, draw=none] coordinates {(737,1)(790,0)} \closedcycle;
\node[text=white, font=\smallfont] at (axis cs:67,0.5) {5/6};
\node[text=white, font=\smallfont] at (axis cs:225,0.5) {5/7};
\node[text=white, font=\smallfont] at (axis cs:381,0.5) {5/8};
\node[text=white, font=\smallfont] at (axis cs:538,0.5) {5/9};
\node[text=white, font=\smallfont] at (axis cs:692,0.5) {5/12};
\node[text=white, font=\smallfont] at (axis cs:852,0.5) {5/13};
\node[text=white, font=\smallfont] at (axis cs:1007,0.5) {5/14};
\end{axis}

% header texts
\node[anchor=west, text=white, font=\smallfont, inner sep=0] at (0.18,10.69) {USDJPY,H1\ \ 148.078 148.078 148.078 148.078};
\node[anchor=west, text=white, font=\fontsize{2.5}{3}\selectfont, inner sep=0] at (0.10,9.94) {Channel size = 2456 Slope = 70.76};
\node[anchor=base west, text=white, font=\fontsize{16.6}{18}\selectfont, inner sep=0] at (0.76,9.467) {USDJPY H1};
\node[anchor=east, text=white, font=\jp\fontsize{3.2}{3.5}\selectfont, inner sep=0] at (18.70,10.70) {5/12 06:37 更新};
\node[anchor=west, text=white, font=\smallfont, inner sep=0] at (0.06,2.13) {H1\ \ macd (12)};
\node[anchor=west, text=white, font=\fontsize{3.1}{3.4}\selectfont, inner sep=0] at (18.80,0.12) {225959};
\pgfresetboundingbox
\useasboundingbox (0,0) rectangle (19.2,10.8);
\end{tikzpicture}
\end{document}
